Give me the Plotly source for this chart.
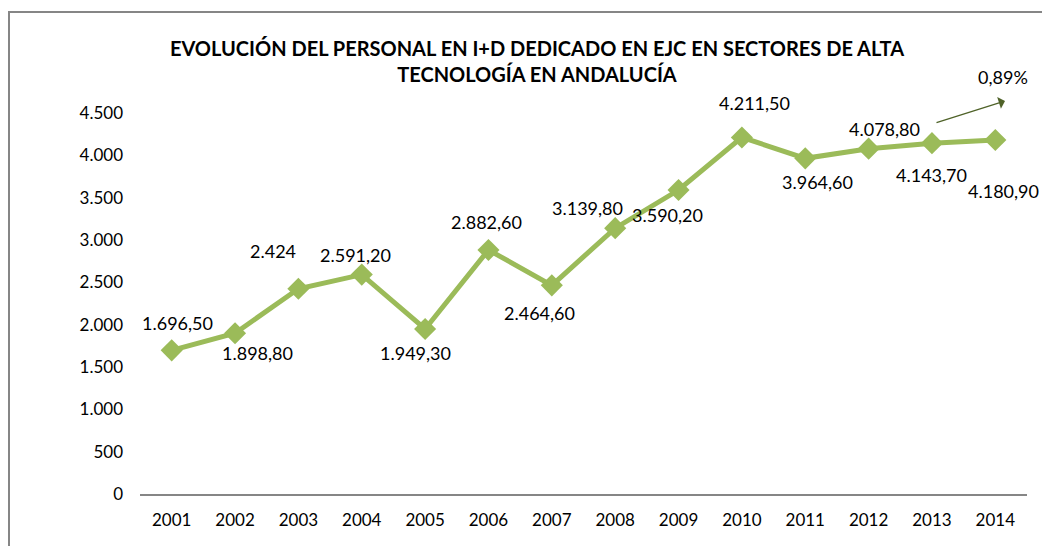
import plotly.graph_objects as go

years = ["2001", "2002", "2003", "2004", "2005", "2006", "2007",
         "2008", "2009", "2010", "2011", "2012", "2013", "2014"]
personal = [1696.5, 1898.8, 2424, 2591.2, 1949.3, 2882.6, 2464.6,
            3139.8, 3590.2, 4211.5, 3964.6, 4078.8, 4143.7, 4180.9]
labels = ["1.696,50", "1.898,80", "2.424", "2.591,20", "1.949,30", "2.882,60", "2.464,60",
          "3.139,80", "3.590,20", "4.211,50", "3.964,60", "4.078,80", "4.143,70", "4.180,90"]
y_ticks = [0, 500, 1000, 1500, 2000, 2500, 3000, 3500, 4000, 4500]
y_tick_text = ["0", "500", "1.000", "1.500", "2.000", "2.500", "3.000", "3.500", "4.000", "4.500"]

# pixel offsets of each data label relative to its point
label_dx = [6, 22, -25, -6, -10, -2, -12, -28, -11, 13, 12, 16, 0, 8]
label_dy = [27, -20, 38, 20, -24, 28, -28, 20, -25, 34, -24, 20, -32, -51]

FONT = "Lato, Calibri, Carlito, sans-serif"
GREEN = "#9BBB59"

# page has an 8px body margin; the figure is sized so the plot lands where the reference has it
W, H = 1042, 538
L, R, T, B = 132, 23, 105, 52
PW, PH = W - L - R, H - T - B

xpos = list(range(len(years)))

fig = go.Figure()
fig.add_trace(go.Scatter(
    x=xpos, y=personal, mode="lines+markers",
    line=dict(color=GREEN, width=5),
    marker=dict(symbol="diamond", size=17, color=GREEN),
    text=years, hovertemplate="%{text}: %{y}<extra></extra>", showlegend=False,
))

for x, y, t, dx, dy in zip(xpos, personal, labels, label_dx, label_dy):
    fig.add_annotation(x=x, y=y, text=t, showarrow=False, xshift=dx, yshift=dy,
                       xanchor="center", yanchor="middle",
                       font=dict(family=FONT, size=18, color="#000000"))

# trend arrow and percentage
fig.add_annotation(xref="paper", yref="paper", x=(1005 - 140) / PW, y=(494 - 101) / PH,
                   ax=-70, ay=22, axref="pixel", ayref="pixel",
                   showarrow=True, arrowhead=1, arrowsize=1.6, arrowwidth=1.3,
                   arrowcolor="#4F6228", text="")
fig.add_annotation(xref="paper", yref="paper", x=(1003 - 140) / PW, y=(494 - 77) / PH,
                   xanchor="center", yanchor="middle",
                   text="0,89%", showarrow=False,
                   font=dict(family=FONT, size=18, color="#000000"))

fig.update_layout(
    width=W, height=H,
    margin=dict(l=L, r=R, t=T, b=B, autoexpand=False),
    paper_bgcolor="white", plot_bgcolor="white",
    font=dict(family=FONT, size=17, color="#000000"),
    title=dict(
        text="<b>EVOLUCIÓN DEL PERSONAL EN I+D DEDICADO EN EJC EN SECTORES DE ALTA<br>TECNOLOGÍA EN ANDALUCÍA</b>",
        x=529 / W, xanchor="center", y=1 - 48 / H, yanchor="middle",
        font=dict(family=FONT, size=20, color="#000000"),
    ),
    xaxis=dict(range=[-0.5, len(years) - 0.5], tickvals=xpos, ticktext=years,
               showgrid=False, showline=True, linecolor="#868686", automargin=False,
               linewidth=2, ticks="", tickfont=dict(size=17), zeroline=False,
               ticklabelstandoff=10),
    yaxis=dict(range=[0, 4500], tickvals=y_ticks, ticktext=y_tick_text, showgrid=False,
               automargin=False, showline=False, zeroline=False, ticks="",
               tickfont=dict(size=17), ticklabelstandoff=16),
    shapes=[dict(type="rect", xref="paper", yref="paper",
                 x0=(1 - L) / PW, x1=(1200 - L) / PW, y0=-200 / PH, y1=(H - B - 4) / PH,
                 line=dict(color="#868686", width=2), fillcolor="rgba(0,0,0,0)", layer="below")],
)

fig.write_html("out.html")
